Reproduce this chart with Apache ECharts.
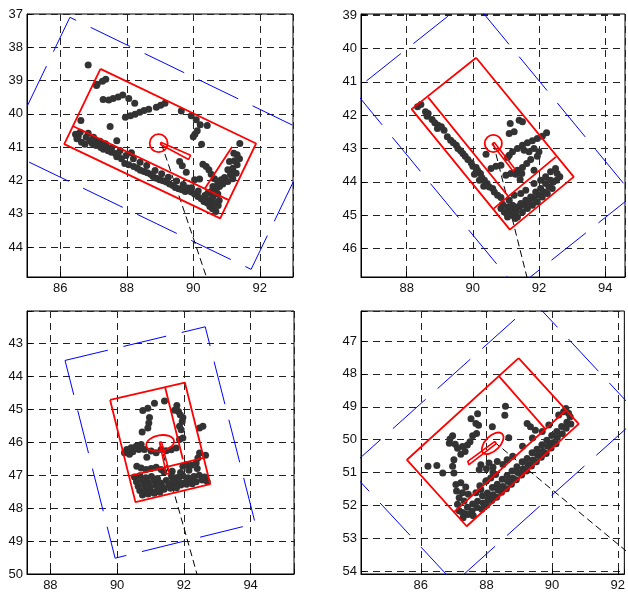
<!DOCTYPE html>
<html><head><meta charset="utf-8">
<script src="https://cdn.jsdelivr.net/npm/echarts@6/dist/echarts.min.js"></script>
<style>html,body{margin:0;padding:0;background:#fff}#c{width:628px;height:592px}</style>
</head><body><div id="c"></div>
<script>
// ---------- Panel 1 ----------
const p1Points = [
[86.84,38.53],[87.37,38.96],[87.27,39.02],[87.11,39.11],[87.09,39.15],
[87.29,39.57],[87.46,39.58],[87.59,39.54],[87.74,39.49],[87.88,39.43],[88.06,39.54],[88.24,39.68],
[87.96,40.10],[88.11,40.06],[88.25,40.01],[88.39,39.95],[88.52,39.90],[88.66,39.86],[88.89,39.80],[89.02,39.74],[89.15,39.68],
[89.64,39.91],[89.94,40.06],[90.09,40.18],[90.21,40.33],[90.42,40.35],[90.12,40.51],[90.05,40.61],[90.00,40.69],[90.25,40.91],
[86.62,40.20],[87.50,40.38],[91.40,40.89],
[86.46,40.61],[86.54,40.68],[86.50,40.75],[86.64,40.85],[86.74,40.91],[86.84,40.58],[86.89,40.81],[86.96,40.89],[87.04,40.79],[87.08,40.95],[87.16,40.88],[87.22,41.01],[87.30,41.06],[87.39,40.98],[87.44,41.11],[87.54,41.15],[87.66,41.19],[87.70,41.29],[87.74,41.23],[87.70,40.81],[87.84,41.35],[87.94,41.49],[88.06,41.53],[88.14,41.17],[88.21,41.58],[88.32,41.63],[88.41,41.69],[88.52,41.73],[88.62,41.77],[88.72,41.81],[88.79,41.88],[88.89,41.93],[88.99,41.98],[89.09,42.01],[89.19,42.05],[89.29,42.11],[89.39,42.15],[89.46,42.21],[89.56,42.25],[89.66,42.28],[89.76,42.33],[89.84,42.23],[89.94,42.35],[90.04,42.41],[90.14,42.48],[90.24,42.55],[90.32,42.63],[90.42,42.68],[90.50,42.78],[90.58,42.85],[90.68,42.93],
[86.60,40.55],[86.78,40.70],[87.00,40.70],[87.20,40.82],[87.36,40.90],[87.55,41.02],[87.80,41.10],[87.98,41.25],[88.20,41.35],[88.40,41.45],[88.60,41.55],[88.85,41.70],[89.05,41.80],[89.25,41.90],[89.50,42.02],[89.70,42.12],[89.95,42.22],[90.15,42.32],[90.35,42.45],[90.55,42.60],[90.75,42.75],[90.78,42.60],
[89.59,41.43],[89.67,41.56],[89.79,41.75],[90.04,41.98],[90.19,41.96],[90.29,41.51],[90.39,41.58],[90.47,41.68],[90.54,41.81],
[91.22,41.18],[91.32,41.23],[91.39,41.35],[91.24,41.41],[91.09,41.43],[91.32,41.53],[91.19,41.63],[91.04,41.68],[91.29,41.78],[91.12,41.83],[90.94,41.91],[91.19,41.95],[90.84,41.98],[91.04,42.03],[90.74,42.08],[90.89,42.11],[90.64,41.95],[90.79,42.18],[90.59,42.18],[90.69,42.28],[90.54,42.33],[90.44,42.38],[90.74,42.41],[90.59,42.51],[90.46,42.58],[90.62,42.68],[91.14,41.78]
];
const p1Box = [[87.21,38.65],[91.89,40.89],[90.81,43.14],[86.12,40.91]];
const p1Inner = [[[86.39,40.37],[91.07,42.59]], [[91.17,40.99],[90.35,42.24]]];
const p1Ellipse = [88.96,40.88,0.27,0.27,0];
const p1Needle = [[89.02,40.85],[89.92,41.24],[89.86,41.37],[89.02,40.92]];
const p1Ray = [[89.04,40.89],[90.43,45.0]];
const p1Outer = [[86.29,37.10],[93.67,40.67],[91.74,44.67],[84.36,41.11]];

// ---------- Panel 2 ----------
const p2Points = [
[88.33,41.75],[88.43,41.68],[88.57,41.90],[88.65,41.95],[88.62,42.03],[88.77,42.13],[88.85,42.23],[88.95,42.30],[89.05,42.35],[88.93,42.40],[89.13,42.45],[89.23,42.65],[89.33,42.75],[89.41,42.83],[89.50,42.90],[89.55,43.00],[89.63,43.07],[89.70,43.15],[89.77,43.23],[89.85,43.33],[89.95,43.43],[90.00,43.53],[90.10,43.57],[90.15,43.67],[90.23,43.75],[90.27,43.87],[90.35,43.95],[90.33,44.13],[90.43,44.05],[90.50,44.15],[90.60,44.20],[90.65,44.30],[90.75,44.40],[90.85,44.47],[90.20,43.95],[90.05,43.77],
[91.13,42.25],[91.40,42.15],[91.50,42.20],[91.10,42.55],[91.25,42.50],[92.23,42.53],[92.10,42.63],[91.95,42.70],[91.80,42.77],[91.65,42.83],[91.50,42.90],[91.35,43.00],[91.20,43.10],[91.10,43.20],[91.55,43.05],[91.70,43.10],[91.85,43.00],[92.00,43.10],[91.95,43.23],[91.75,43.33],[91.63,43.45],[91.50,43.57],[91.35,43.65],[91.48,43.75],[91.30,43.77],[91.15,43.75],[91.00,43.80],[90.85,43.50],[90.70,43.53],[90.55,43.60],[90.40,43.17],[91.05,43.27],[91.43,43.93],[91.85,43.65],
[90.85,44.80],[90.95,44.90],[91.05,44.75],[91.15,44.85],[91.20,45.00],[91.30,44.90],[91.35,45.05],[91.40,44.75],[91.50,44.90],[91.55,44.70],[91.65,44.80],[91.70,44.60],[91.80,44.70],[91.85,44.50],[91.95,44.60],[92.00,44.40],[92.10,44.45],[92.15,44.30],[92.25,44.35],[92.30,44.15],[92.40,44.20],[92.43,44.00],[92.53,43.95],[92.55,43.75],[92.50,43.60],[92.63,43.85],[91.10,44.55],[91.25,44.40],[91.45,44.35],[91.60,44.25],[91.85,44.05],[92.05,43.95],[92.20,43.85],[92.35,43.70],[91.05,45.05],[91.20,44.70],[90.90,44.67],[91.60,44.55],[91.75,44.45],[91.90,44.30],[92.05,44.20],[92.20,44.05],[92.35,43.95],[91.45,44.65],[91.30,44.75],[91.02,44.95],[91.28,45.10]
];
const p2Box = [[90.10,40.28],[93.05,43.85],[91.12,45.43],[88.15,41.82]];
const p2Inner = [[[88.65,41.47],[91.07,44.43]], [[90.63,44.80],[92.51,43.25]]];
const p2Ellipse = [90.62,42.85,0.26,0.26,0];
const p2Needle = [[90.58,42.86],[91.20,43.66],[91.28,43.62],[90.65,42.82]];
const p2Ray = [[90.62,42.85],[91.66,46.95]];
const p2Outer = [[89.94,38.49],[94.85,44.40],[91.32,47.18],[86.41,41.27]];

// ---------- Panel 3 ----------
const p3Points = [
[90.77,45.04],[90.92,44.97],[91.12,44.82],[91.42,44.75],[91.79,44.89],[91.84,45.07],[91.89,45.17],[91.97,45.25],[91.72,45.03],[90.97,45.25],[90.95,45.42],[90.92,45.57],[91.95,45.37],[91.87,45.52],[91.92,45.62],[92.47,45.57],[92.57,45.52],[90.75,45.69],[91.87,45.92],[91.97,45.87],
[90.22,46.32],[90.29,46.22],[90.37,46.37],[90.42,46.17],[90.47,46.29],[90.57,46.12],[90.65,46.22],[90.72,46.07],[90.82,46.22],[90.89,46.46],[91.02,46.27],[91.17,46.32],[91.32,46.22],[91.47,46.26],[91.62,46.23],[91.77,46.18],[92.47,46.33],[92.65,46.40],[92.42,46.48],
[90.59,46.73],[90.72,46.78],[90.87,46.83],[91.02,46.80],[91.17,46.76],[91.32,46.83],[91.97,46.73],[92.07,46.68],[92.22,46.70],[92.37,46.63],
[91.40,46.90],[91.65,46.88],[91.90,46.92],[92.15,46.85],[92.40,46.80],
[90.52,47.06],[90.68,47.02],[90.86,47.08],[91.03,47.04],[91.21,47.10],[91.63,47.03],[91.80,47.07],[91.97,47.02],[92.13,47.08],[92.30,47.04],[92.46,47.00],[92.62,47.06],
[90.58,47.20],[90.76,47.17],[90.94,47.22],[91.12,47.18],[91.30,47.24],[91.47,47.16],[91.66,47.21],[91.84,47.17],[92.02,47.23],[92.19,47.18],[92.37,47.20],[92.55,47.15],[92.70,47.19],
[90.63,47.34],[90.82,47.31],[90.99,47.36],[91.16,47.30],[91.36,47.35],[91.55,47.29],[91.73,47.33],[91.91,47.30],[92.08,47.28],[92.25,47.26],
[90.68,47.47],[90.86,47.44],[91.03,47.50],[91.21,47.44],[91.41,47.43],[91.60,47.40],[91.78,47.38],
[90.76,47.60],[90.93,47.57],[91.11,47.55],[91.28,47.52]
];
const p3Box = [[89.79,44.72],[92.03,44.19],[92.79,47.27],[90.55,47.82]];
const p3Inner = [[[91.44,44.34],[91.97,46.52]], [[90.39,47.02],[92.59,46.48]]];
const p3Ellipse = [91.29,46.03,0.42,0.24,10];
const p3Needle = [[91.27,46.00],[91.44,46.80],[91.45,46.97],[91.56,46.95],[91.53,46.78],[91.33,46.00]];
const p3Ray = [[91.29,46.04],[92.42,50.1]];
const p3Outer = [[88.44,43.52],[92.64,42.50],[94.14,48.47],[89.94,49.52]];

// ---------- Panel 4 ----------
const p4Points = [
[88.58,48.98],[88.56,49.26],[87.73,49.21],[87.53,49.36],[87.68,49.51],[87.76,49.56],[88.18,49.61],[87.70,49.81],[87.58,49.88],[86.97,49.88],[86.89,49.98],[86.87,50.11],[87.05,50.14],[87.12,50.26],[87.27,50.21],[87.42,50.16],[87.50,50.06],[87.35,50.36],[87.22,50.44],[88.68,49.94],[89.24,49.51],[89.34,49.61],[89.49,49.71],
[88.63,50.61],[88.33,50.66],[88.08,50.71],[87.83,50.76],[87.78,50.91],[88.00,50.88],[88.20,50.84],[87.01,50.61],[86.97,50.81],[87.01,51.01],[86.67,51.01],[86.49,50.78],[86.22,50.81],
[87.07,51.36],[87.22,51.31],[87.37,51.44],[87.09,51.56],[87.27,51.61],[87.45,51.66],[87.17,51.76],[87.32,51.86],[87.12,51.96],[87.68,51.61],[87.83,51.51],[87.98,51.26],[88.13,51.16],[88.28,51.06],[87.17,52.16],[87.37,52.26],
[87.27,52.21],[87.29,52.37],[87.42,52.05],[87.44,52.27],[87.58,51.95],[87.56,52.17],[87.60,52.31],[87.73,51.87],[87.71,52.06],[87.88,51.70],[87.90,51.92],[87.86,52.11],[88.03,51.62],[88.05,51.80],[88.01,51.99],
[88.18,51.45],[88.20,51.67],[88.16,51.85],[88.33,51.35],[88.35,51.53],[88.31,51.75],[88.48,51.20],[88.50,51.42],[88.46,51.60],[88.63,51.09],[88.65,51.27],[88.61,51.49],
[88.78,50.95],[88.80,51.17],[88.76,51.35],[88.93,50.82],[88.95,51.00],[88.91,51.22],[89.09,50.67],[89.11,50.89],[89.07,51.07],[89.24,50.57],[89.26,50.75],[89.22,50.95],
[89.39,50.40],[89.41,50.62],[89.37,50.80],[89.54,50.29],[89.56,50.47],[89.52,50.67],[89.69,50.15],[89.71,50.35],[89.67,50.53],[89.84,50.02],[89.86,50.20],[89.82,50.42],
[89.99,49.87],[90.01,50.09],[89.97,50.25],[90.14,49.75],[90.16,49.93],[90.12,50.12],[90.29,49.60],[90.31,49.82],[90.45,49.47],[90.43,49.65],[90.55,49.30],[90.57,49.52],
[88.20,51.00],[88.50,50.75],[88.80,50.50],[89.10,50.20],[89.40,49.95],[89.70,49.75],[88.00,51.25],[87.80,51.40],[89.90,49.55],[90.20,49.25],[90.35,49.15],[90.42,49.05],[90.50,49.20]
];
const p4Box = [[88.98,47.52],[90.81,49.52],[87.40,52.63],[85.58,50.61]];
const p4Inner = [[[87.01,52.20],[90.41,49.12]], [[88.38,48.07],[89.79,49.67]]];
const p4Ellipse = [88.19,50.11,0.41,0.22,45];
const p4Needle = [[88.26,50.05],[87.43,50.66],[87.47,50.76],[88.30,50.12]];
const p4Ray = [[88.23,50.06],[92.40,53.50]];
const p4Outer = [[83.79,50.88],[89.45,45.82],[92.68,49.28],[87.02,54.35]];

const panels = [
  {pts:p1Points, box:p1Box, inner:p1Inner, ell:p1Ellipse, needle:p1Needle, ray:p1Ray, outer:p1Outer, dashOff:37},
  {pts:p2Points, box:p2Box, inner:p2Inner, ell:p2Ellipse, needle:p2Needle, ray:p2Ray, outer:p2Outer, dashOff:44},
  {pts:p3Points, box:p3Box, inner:p3Inner, ell:p3Ellipse, needle:p3Needle, ray:p3Ray, outer:p3Outer, dashOff:0},
  {pts:p4Points, box:p4Box, inner:p4Inner, ell:p4Ellipse, needle:p4Needle, ray:p4Ray, outer:p4Outer, dashOff:0}
];

// axis layout
const grids = [
  {left:27, top:14, width:266, height:263},
  {left:361, top:14, width:265, height:263},
  {left:27, top:311, width:267, height:266},
  {left:361, top:311, width:266, height:266}
];
const xr = [[85,93],[86.62,94.6],[87.3,95.3],[84.18,92.2]];
const yr = [[37,44.9],[38.97,46.85],[42.02,50],[46.09,54.08]];

const font = {fontFamily:'Liberation Sans, Arial, Helvetica, sans-serif', fontSize:13, color:'#111'};
const isInt = v => Math.abs(v - Math.round(v)) < 1e-6;

const xAxes = [], yAxes = [], series = [];
grids.forEach((g,i)=>{
  xAxes.push({type:'value', gridIndex:i, min:xr[i][0], max:xr[i][1], minInterval:2, maxInterval:2, splitNumber:4,
    axisLine:{show:true, onZero:false, lineStyle:{color:'#000', width:1}},
    axisTick:{show:true, inside:true, length:5, lineStyle:{color:'#000'}},
    axisLabel:Object.assign({margin:5, showMinLabel:true, showMaxLabel:true,
      formatter:v=> (isInt(v) && Math.round(v)%2===0) ? String(Math.round(v)) : ''}, font),
    splitLine:{show:true, lineStyle:{color:'#222', width:1, type:[7,5]}}});
  yAxes.push({type:'value', gridIndex:i, inverse:true, min:yr[i][0], max:yr[i][1], minInterval:1, maxInterval:1, splitNumber:8,
    axisLine:{show:true, onZero:false, lineStyle:{color:'#000', width:1}},
    axisTick:{show:true, inside:true, length:5, lineStyle:{color:'#000'}},
    axisLabel:Object.assign({margin:4, formatter:v=> isInt(v) ? String(Math.round(v)) : ''}, font),
    splitLine:{show:true, lineStyle:{color:'#222', width:1, type:[7,5]}}});
});

function lineS(i, pts, closed, style, z){
  return {type:'line', xAxisIndex:i, yAxisIndex:i, data: closed ? pts.concat([pts[0]]) : pts,
    symbol:'none', showSymbol:false, clip:true, silent:true, animation:false, z:z, lineStyle:style};
}
const RED = '#f00';
panels.forEach((p,i)=>{
  series.push(lineS(i, p.outer, true, {color:'#0000ff', width:1, type:[44,16], dashOffset:p.dashOff}, 2));
  series.push(lineS(i, p.ray, false, {color:'#000', width:1, type:[7,4]}, 3));
  series.push({type:'scatter', xAxisIndex:i, yAxisIndex:i, data:p.pts, symbol:'circle', symbolSize:7,
    itemStyle:{color:'#333', opacity:1}, silent:true, animation:false, z:4});
  series.push(lineS(i, p.box, true, {color:RED, width:1.8}, 5));
  p.inner.forEach(seg=>series.push(lineS(i, seg, false, {color:RED, width:1.8}, 5)));
  series.push(lineS(i, p.needle, true, {color:RED, width:1.6}, 5));
  series.push({type:'custom', xAxisIndex:i, yAxisIndex:i, data:[p.ell], silent:true, animation:false, z:6,
    renderItem:(params, api)=>{
      const cx=api.value(0), cy=api.value(1);
      const c = api.coord([cx,cy]);
      const s = api.size([api.value(2), api.value(3)], [cx,cy]);
      return {type:'ellipse', x:c[0], y:c[1], rotation:api.value(4)*Math.PI/180,
        shape:{cx:0, cy:0, rx:s[0], ry:s[1]},
        style:{fill:null, stroke:RED, lineWidth:1.8}};
    }});
});

const chart = echarts.init(document.getElementById('c'), null, {renderer:'canvas'});
chart.setOption({
  animation:false,
  backgroundColor:'#fff',
  grid: grids.map(g=>Object.assign({show:true, borderColor:'#000', borderWidth:1, backgroundColor:'transparent', containLabel:false}, g)),
  xAxis:xAxes, yAxis:yAxes, series:series
});
</script></body></html>
